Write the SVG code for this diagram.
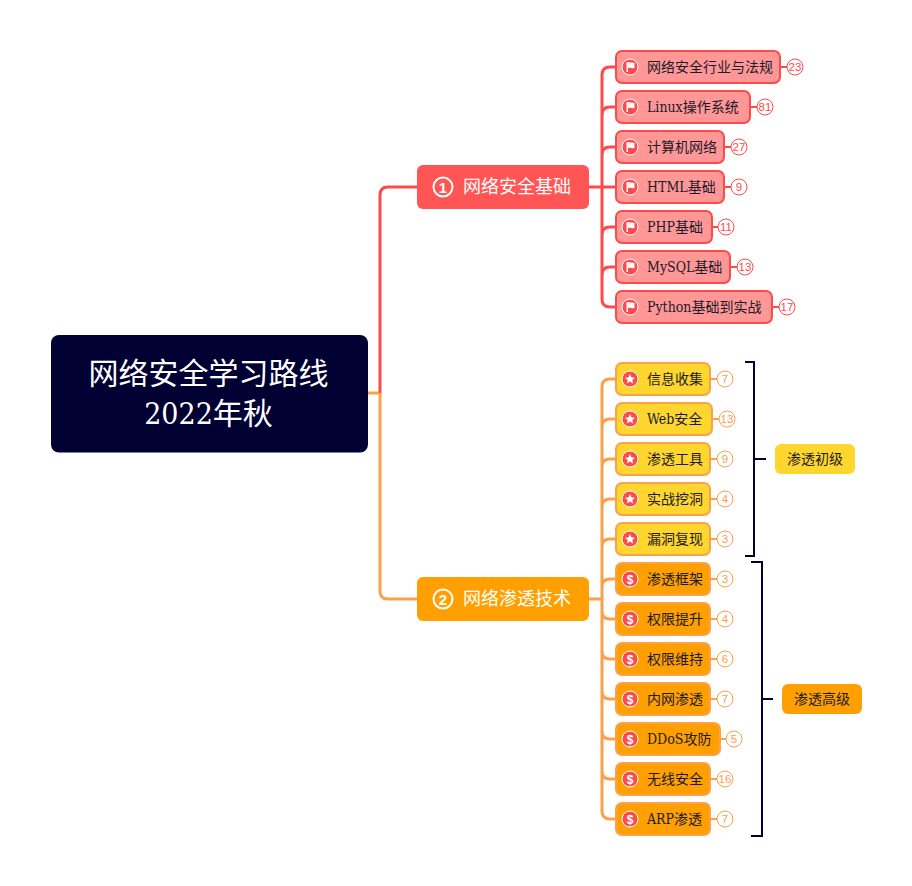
<svg xmlns="http://www.w3.org/2000/svg" width="912" height="886" viewBox="0 0 912 886">
<style>
text{font-family:"DejaVu Serif","Noto Sans CJK SC",serif;font-stretch:condensed}
.c{fill:none;stroke-width:3}
.r{stroke:#FF4A4A}.o{stroke:#FCA04C}
.l{stroke-width:2;fill:none}
.br{fill:none;stroke:#000033;stroke-width:2}
.t{font-size:14px;fill:#1a1a2a}
.n1 rect{fill:#FF9797;stroke:#FF4A4A;stroke-width:2}
.n2 rect{fill:#FFD62E;stroke:#FCA04C;stroke-width:2}
.n3 rect{fill:#FFA000;stroke:#FCA04C;stroke-width:2}
.ic{fill:#FF4A4A;stroke:#fff;stroke-width:1}
.cn{fill:#fff;stroke-width:1}
.cl{font-family:"Liberation Sans",sans-serif;font-size:11.500px;text-anchor:middle;font-stretch:normal}
.cr{fill:#FF4A4A}.co{fill:#FCA04C}
.w{fill:#fff}
.lab{font-size:14px;fill:#1a1a2a}
.p{font-size:18px;fill:#fff}
.pn{font-family:"Liberation Sans",sans-serif;font-size:15px;font-weight:bold;fill:#fff;text-anchor:middle}
.d{font-family:"Liberation Sans",sans-serif;font-size:12px;font-weight:bold;fill:#fff;text-anchor:middle}
</style>
<defs>
<g id="flag"><circle class="ic" cx="630" cy="0" r="8"/><path class="w" d="M626.500 -5H628V-4.500C630 -5.500 632 -3.500 634.500 -4.500V1C632 2 630 0 628 1V5H626.500Z"/></g>
<g id="star"><circle class="ic" cx="630" cy="0" r="8"/><path class="w" d="M630 -5L631.500 -1.600L635 -1.300L632.300 1L633.100 4.500L630 2.600L626.900 4.500L627.700 1L625 -1.300L628.500 -1.600Z"/></g>
<g id="dollar"><circle class="ic" cx="630" cy="0" r="8"/><text class="d" x="630" y="4.500">$</text></g>
</defs>
<g id="connectors">
<path class="c o" d="M368 393H380"/>
<path class="c r" d="M380 393V195Q380 187 388 187H417"/>
<path class="c o" d="M380 393V591Q380 599 388 599H417"/>
<path class="c r" d="M589 187H615M602 187V75Q602 67 610 67H615M602 187V299Q602 307 610 307H615M602 115Q602 107 610 107H615M602 155Q602 147 610 147H615M602 235Q602 227 610 227H615M602 275Q602 267 610 267H615"/>
<path class="c o" d="M589 599H602M602 599V387Q602 379 610 379H615M602 599V811Q602 819 610 819H615M602 427Q602 419 610 419H615M602 467Q602 459 610 459H615M602 507Q602 499 610 499H615M602 547Q602 539 610 539H615M602 587Q602 579 610 579H615M602 611Q602 619 610 619H615M602 651Q602 659 610 659H615M602 691Q602 699 610 699H615M602 731Q602 739 610 739H615M602 771Q602 779 610 779H615"/>
<path class="br" d="M745 362H754V556H745M754 459H766"/>
<path class="br" d="M751 562H762V836H751M762 699H773"/>
</g>
<g id="root"><rect x="51" y="335" width="317" height="117.500" rx="8" fill="#000033"/>
<text x="208.500" y="384" font-size="30" fill="#fff" text-anchor="middle">网络安全学习路线</text>
<text x="208.500" y="424" font-size="30" fill="#fff" text-anchor="middle">2022年秋</text></g>
<g id="main1"><rect x="417" y="165" width="172" height="44" rx="6" fill="#FF5555"/><circle cx="443" cy="187" r="9.500" fill="none" stroke="#fff" stroke-width="2"/><text class="pn" x="443" y="192.500">1</text><text class="p" x="463" y="193">网络安全基础</text></g>
<g id="main2"><rect x="417" y="577" width="172" height="44" rx="6" fill="#FFA000"/><circle cx="443" cy="599" r="9.500" fill="none" stroke="#fff" stroke-width="2"/><text class="pn" x="443" y="604.500">2</text><text class="p" x="463" y="605">网络渗透技术</text></g>

<g id="n11" class="n1" transform="translate(0,67)"><rect x="616" y="-16" width="164" height="32" rx="6"/><use href="#flag"/><text class="t" x="647" y="5">网络安全行业与法规</text><path class="r l" d="M781 0H787"/><circle class="cn r" cx="795" r="8"/><text class="cl cr" x="795" y="4">23</text></g>
<g id="n12" class="n1" transform="translate(0,107)"><rect x="616" y="-16" width="134" height="32" rx="6"/><use href="#flag"/><text class="t" x="647" y="5">Linux操作系统</text><path class="r l" d="M751 0H757"/><circle class="cn r" cx="765" r="8"/><text class="cl cr" x="765" y="4">81</text></g>
<g id="n13" class="n1" transform="translate(0,147)"><rect x="616" y="-16" width="108" height="32" rx="6"/><use href="#flag"/><text class="t" x="647" y="5">计算机网络</text><path class="r l" d="M725 0H731"/><circle class="cn r" cx="739" r="8"/><text class="cl cr" x="739" y="4">27</text></g>
<g id="n14" class="n1" transform="translate(0,187)"><rect x="616" y="-16" width="108" height="32" rx="6"/><use href="#flag"/><text class="t" x="647" y="5">HTML基础</text><path class="r l" d="M725 0H731"/><circle class="cn r" cx="739" r="8"/><text class="cl cr" x="739" y="4">9</text></g>
<g id="n15" class="n1" transform="translate(0,227)"><rect x="616" y="-16" width="96" height="32" rx="6"/><use href="#flag"/><text class="t" x="647" y="5">PHP基础</text><path class="r l" d="M713 0H718"/><circle class="cn r" cx="726" r="8"/><text class="cl cr" x="726" y="4">11</text></g>
<g id="n16" class="n1" transform="translate(0,267)"><rect x="616" y="-16" width="114" height="32" rx="6"/><use href="#flag"/><text class="t" x="647" y="5">MySQL基础</text><path class="r l" d="M731 0H737"/><circle class="cn r" cx="745" r="8"/><text class="cl cr" x="745" y="4">13</text></g>
<g id="n17" class="n1" transform="translate(0,307)"><rect x="616" y="-16" width="156" height="32" rx="6"/><use href="#flag"/><text class="t" x="647" y="5">Python基础到实战</text><path class="r l" d="M773 0H779"/><circle class="cn r" cx="787" r="8"/><text class="cl cr" x="787" y="4">17</text></g>

<g id="n21" class="n2" transform="translate(0,379)"><rect x="616" y="-16" width="94" height="32" rx="6"/><use href="#star"/><text class="t" x="647" y="5">信息收集</text><path class="o l" d="M711 0H717"/><circle class="cn o" cx="725" r="8"/><text class="cl co" x="725" y="4">7</text></g>
<g id="n22" class="n2" transform="translate(0,419)"><rect x="616" y="-16" width="96" height="32" rx="6"/><use href="#star"/><text class="t" x="647" y="5">Web安全</text><path class="o l" d="M713 0H719"/><circle class="cn o" cx="727" r="8"/><text class="cl co" x="727" y="4">13</text></g>
<g id="n23" class="n2" transform="translate(0,459)"><rect x="616" y="-16" width="94" height="32" rx="6"/><use href="#star"/><text class="t" x="647" y="5">渗透工具</text><path class="o l" d="M711 0H717"/><circle class="cn o" cx="725" r="8"/><text class="cl co" x="725" y="4">9</text></g>
<g id="n24" class="n2" transform="translate(0,499)"><rect x="616" y="-16" width="94" height="32" rx="6"/><use href="#star"/><text class="t" x="647" y="5">实战挖洞</text><path class="o l" d="M711 0H717"/><circle class="cn o" cx="725" r="8"/><text class="cl co" x="725" y="4">4</text></g>
<g id="n25" class="n2" transform="translate(0,539)"><rect x="616" y="-16" width="94" height="32" rx="6"/><use href="#star"/><text class="t" x="647" y="5">漏洞复现</text><path class="o l" d="M711 0H717"/><circle class="cn o" cx="725" r="8"/><text class="cl co" x="725" y="4">3</text></g>

<g id="n31" class="n3" transform="translate(0,579)"><rect x="616" y="-16" width="94" height="32" rx="6"/><use href="#dollar"/><text class="t" x="647" y="5">渗透框架</text><path class="o l" d="M711 0H717"/><circle class="cn o" cx="725" r="8"/><text class="cl co" x="725" y="4">3</text></g>
<g id="n32" class="n3" transform="translate(0,619)"><rect x="616" y="-16" width="94" height="32" rx="6"/><use href="#dollar"/><text class="t" x="647" y="5">权限提升</text><path class="o l" d="M711 0H717"/><circle class="cn o" cx="725" r="8"/><text class="cl co" x="725" y="4">4</text></g>
<g id="n33" class="n3" transform="translate(0,659)"><rect x="616" y="-16" width="94" height="32" rx="6"/><use href="#dollar"/><text class="t" x="647" y="5">权限维持</text><path class="o l" d="M711 0H717"/><circle class="cn o" cx="725" r="8"/><text class="cl co" x="725" y="4">6</text></g>
<g id="n34" class="n3" transform="translate(0,699)"><rect x="616" y="-16" width="94" height="32" rx="6"/><use href="#dollar"/><text class="t" x="647" y="5">内网渗透</text><path class="o l" d="M711 0H717"/><circle class="cn o" cx="725" r="8"/><text class="cl co" x="725" y="4">7</text></g>
<g id="n35" class="n3" transform="translate(0,739)"><rect x="616" y="-16" width="104" height="32" rx="6"/><use href="#dollar"/><text class="t" x="647" y="5">DDoS攻防</text><path class="o l" d="M721 0H726"/><circle class="cn o" cx="734" r="8"/><text class="cl co" x="734" y="4">5</text></g>
<g id="n36" class="n3" transform="translate(0,779)"><rect x="616" y="-16" width="94" height="32" rx="6"/><use href="#dollar"/><text class="t" x="647" y="5">无线安全</text><path class="o l" d="M711 0H717"/><circle class="cn o" cx="725" r="8"/><text class="cl co" x="725" y="4">16</text></g>
<g id="n37" class="n3" transform="translate(0,819)"><rect x="616" y="-16" width="94" height="32" rx="6"/><use href="#dollar"/><text class="t" x="647" y="5">ARP渗透</text><path class="o l" d="M711 0H717"/><circle class="cn o" cx="725" r="8"/><text class="cl co" x="725" y="4">7</text></g>

<g id="sum1"><rect x="775" y="444" width="80" height="30" rx="6" fill="#FFD62E"/><text class="lab" x="815" y="464" text-anchor="middle">渗透初级</text></g>
<g id="sum2"><rect x="782" y="684" width="80" height="30" rx="6" fill="#FFA000"/><text class="lab" x="822" y="704" text-anchor="middle">渗透高级</text></g>
</svg>
